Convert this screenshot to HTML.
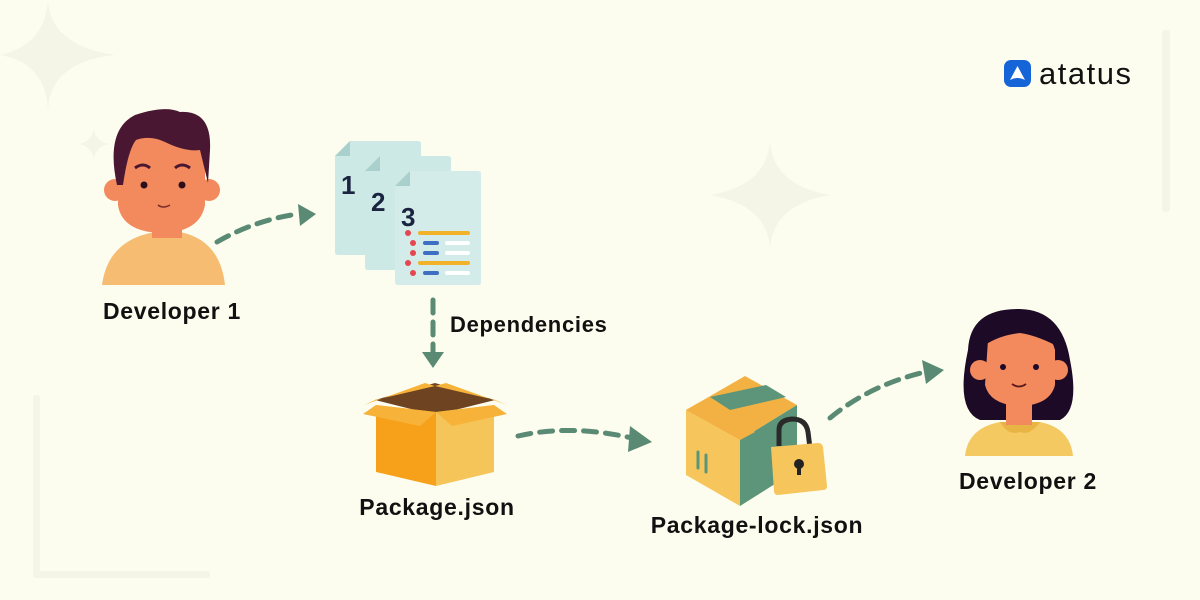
<!DOCTYPE html>
<html><head><meta charset="utf-8"><style>
html,body{margin:0;padding:0;background:#fcfdee;}
svg{display:block}
text{font-family:"Liberation Sans",sans-serif;font-weight:bold;fill:#111;}
text.lbl{letter-spacing:0.7px;}
</style></head><body>
<svg width="1200" height="600" viewBox="0 0 1200 600" xmlns="http://www.w3.org/2000/svg">
<rect width="1200" height="600" fill="#fcfdee"/>
<!-- faint decorations -->
<g fill="#f4f5e6">
<path d="M48 0 Q50 45 115 55 Q50 62 48 110 Q45 62 0 55 Q45 45 48 0Z"/>
<path d="M94 128 Q95 142 110 144 Q95 146 94 160 Q92 146 78 144 Q92 142 94 128Z"/>
<path d="M770 140 Q772 185 830 195 Q772 205 770 250 Q768 205 710 195 Q768 185 770 140Z"/>
<rect x="1162" y="30" width="8" height="182" rx="3"/>
<rect x="33" y="395" width="7" height="182" rx="3"/>
<rect x="33" y="571" width="177" height="7" rx="3"/>
</g>
<!-- Developer 1 -->
<path d="M102 285 Q108 240 155 232 L180 232 Q220 240 225 285Z" fill="#f6bc72"/>
<rect x="152" y="200" width="30" height="38" fill="#f28a5e"/>
<circle cx="115" cy="190" r="11" fill="#f28a5e"/>
<circle cx="209" cy="190" r="11" fill="#f28a5e"/>
<path d="M118 150 Q118 120 160 125 Q205 125 205 160 L205 205 Q200 232 162 233 Q122 232 118 205Z" fill="#f28a5e"/>
<path d="M117 185 Q105 130 135 115 Q165 105 180 112 Q212 110 210 150 L208 183 L200 150 Q185 152 165 142 Q150 135 136 140 Q128 150 123 185Z" fill="#4a1732"/>
<circle cx="144" cy="185" r="3.5" fill="#2a0e1a"/><circle cx="182" cy="185" r="3.5" fill="#2a0e1a"/>
<path d="M135 168 Q143 162 150 168 M175 168 Q182 162 190 168" stroke="#4a1732" stroke-width="3" fill="none"/>
<path d="M158 205 Q163 209 170 205" stroke="#7a2a2a" stroke-width="1.5" fill="none"/>
<text class="lbl" x="172" y="319" font-size="23" text-anchor="middle">Developer 1</text>
<!-- arrows -->
<g stroke="#5a8a73" stroke-width="5" fill="none" stroke-dasharray="13 9" stroke-linecap="round">
<path d="M217 242 Q255 220 298 214"/>
<path d="M433 300 L433 355"/>
<path d="M518 436 Q570 424 632 438"/>
<path d="M830 418 Q870 385 925 372"/>
</g>
<g fill="#5a8a73">
<path d="M298 204 L316 214 L300 226Z"/>
<path d="M422 352 L444 352 L433 368Z"/>
<path d="M630 426 L652 442 L628 452Z"/>
<path d="M922 360 L944 370 L926 384Z"/>
</g>
<!-- docs -->
<g>
<path d="M350 141 L418 141 Q421 141 421 144 L421 252 Q421 255 418 255 L338 255 Q335 255 335 252 L335 156Z" fill="#cde9e6"/>
<path d="M335 156 L350 141 L350 156Z" fill="#a9d0cd"/>
<text x="341" y="194" font-size="26" style="fill:#1a2440">1</text>
<path d="M380 156 L448 156 Q451 156 451 159 L451 267 Q451 270 448 270 L368 270 Q365 270 365 267 L365 171Z" fill="#cde9e6"/>
<path d="M365 171 L380 156 L380 171Z" fill="#a9d0cd"/>
<text x="371" y="211" font-size="26" style="fill:#1a2440">2</text>
<path d="M410 171 L478 171 Q481 171 481 174 L481 282 Q481 285 478 285 L398 285 Q395 285 395 282 L395 186Z" fill="#d3ecea"/>
<path d="M395 186 L410 171 L410 186Z" fill="#a9d0cd"/>
<text x="401" y="226" font-size="26" style="fill:#1a2440">3</text>
<g fill="#e5474f"><circle cx="408" cy="233" r="3"/><circle cx="413" cy="243" r="3"/><circle cx="413" cy="253" r="3"/><circle cx="408" cy="263" r="3"/><circle cx="413" cy="273" r="3"/></g>
<g stroke-linecap="round" stroke-width="4">
<path d="M420 233 L468 233 M420 263 L468 263" stroke="#f2b32a"/>
<path d="M425 243 L437 243 M425 253 L437 253 M425 273 L437 273" stroke="#3f6fc2"/>
<path d="M447 243 L468 243 M447 253 L468 253 M447 273 L468 273" stroke="#fff"/>
</g>
</g>
<text class="lbl" x="450" y="332" font-size="22">Dependencies</text>
<!-- box 1 -->
<path d="M375 400 L435 383 L495 400 L435 415Z" fill="#6e4321"/>
<path d="M376 405 L436 412 L436 486 L376 472Z" fill="#f7a11a"/>
<path d="M436 412 L494 405 L494 472 L436 486Z" fill="#f6c55a"/>
<path d="M376 405 L363 414 L420 426 L436 412Z" fill="#f7b23a"/>
<path d="M494 405 L507 414 L452 426 L436 412Z" fill="#f7b23a"/>
<path d="M375 400 L435 386 L425 383 L364 405Z" fill="#f7b23a"/>
<path d="M495 400 L435 386 L446 383 L507 405Z" fill="#f7b23a"/>
<text class="lbl" x="437" y="515" font-size="23" text-anchor="middle">Package.json</text>
<!-- box 2 -->
<path d="M686 410 L745 376 L797 405 L740 440Z" fill="#f4b143"/>
<path d="M710 397 L766 385 L786 397 L730 410Z" fill="#5c9579"/>
<path d="M686 410 L740 440 L740 506 L686 475Z" fill="#f6c55c"/>
<path d="M740 440 L797 405 L797 470 L740 506Z" fill="#5c9579"/>
<path d="M686 410 L700 402 L755 432 L740 440Z" fill="#f4b143"/>
<path d="M698 452 L698 468 M706 455 L706 472" stroke="#5c9579" stroke-width="3" stroke-linecap="round"/>
<path d="M779 446 L779 430 Q779 420 792 419 Q806 419 808 432 L810 448" stroke="#2a2a2a" stroke-width="5" fill="none"/>
<path d="M771 447 L818 443 Q822 443 823 447 L827 486 Q827 490 823 490 L778 495 Q774 495 774 491Z" fill="#f6c55c"/>
<circle cx="799" cy="464" r="5" fill="#222"/><rect x="797" y="464" width="4" height="11" fill="#222"/>
<text class="lbl" x="757" y="533" font-size="23" text-anchor="middle">Package-lock.json</text>
<!-- Developer 2 -->
<path d="M965 456 Q968 428 1000 422 L1040 422 Q1070 428 1073 456Z" fill="#f5c962"/>
<path d="M1000 422 Q1008 436 1020 432 Q1030 436 1040 422Z" fill="#e8b444"/>
<path d="M968 350 Q970 308 1020 309 Q1062 310 1070 360 Q1080 410 1060 420 L980 420 Q955 410 968 350Z" fill="#1d0a27"/>
<rect x="1006" y="395" width="26" height="30" fill="#f28a5e"/>
<circle cx="980" cy="370" r="10" fill="#f28a5e"/><circle cx="1058" cy="370" r="10" fill="#f28a5e"/>
<path d="M988 340 Q1000 325 1025 326 Q1050 330 1055 350 L1055 385 Q1050 405 1020 406 Q990 405 985 385Z" fill="#f28a5e"/>
<path d="M985 345 Q995 318 1030 322 Q1045 326 1055 345 Q1035 335 1020 333 Q1000 335 985 345Z" fill="#1d0a27"/>
<circle cx="1003" cy="367" r="3" fill="#1d0a27"/><circle cx="1036" cy="367" r="3" fill="#1d0a27"/>
<path d="M1012 384 Q1019 389 1026 384" stroke="#5a1a1a" stroke-width="1.8" fill="none"/>
<text class="lbl" x="1028" y="489" font-size="23" text-anchor="middle">Developer 2</text>
<!-- logo -->
<rect x="1004" y="60" width="27" height="27" rx="7" fill="#1565d8"/>
<path d="M1017.5 66 L1025 80 Q1017.5 76 1010 80Z" fill="#fff"/>
<text x="1039" y="84" font-size="31" style="font-weight:normal;fill:#111;letter-spacing:1.5px">atatus</text>
</svg>
</body></html>
